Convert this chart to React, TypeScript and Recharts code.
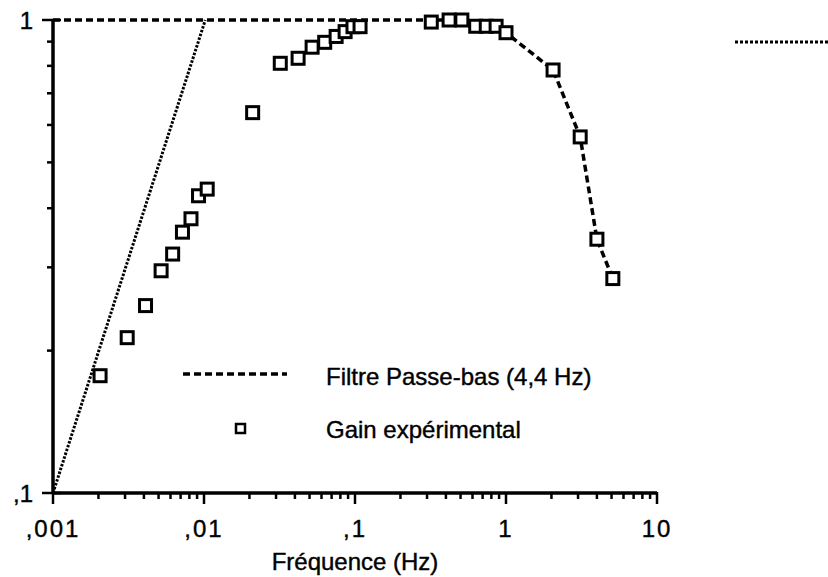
import React from "react";
import { ComposedChart, Line, Scatter, XAxis, YAxis } from "recharts";

// fréquences (Hz) et gains
const expFreq = [
  0.00205, 0.0031, 0.0041, 0.0052, 0.0062, 0.0072, 0.0082, 0.0092, 0.0105,
  0.021, 0.032, 0.042, 0.052, 0.063, 0.075, 0.086, 0.097, 0.108,
  0.32, 0.42, 0.51, 0.63, 0.74, 0.86, 1.0, 2.05, 3.1, 4.0, 5.1,
];
const expGain = [
  0.177, 0.213, 0.249, 0.295, 0.32, 0.356, 0.38, 0.425, 0.439,
  0.637, 0.81, 0.83, 0.876, 0.897, 0.923, 0.945, 0.968, 0.968,
  0.99, 1.0, 1.0, 0.97, 0.97, 0.97, 0.94, 0.784, 0.566, 0.344, 0.284,
];

// filtre passe-bas 4,4 Hz (tirets)
const filterFreq = [0.001, 0.3, 0.5, 0.63, 0.86, 1.0, 2.05, 3.1, 4.0, 5.1];
const filterGain = [1, 1, 1, 0.98, 0.97, 0.94, 0.784, 0.566, 0.344, 0.284];

// droite en pointillés
const slopeFreq = [0.001, 0.0102];
const slopeGain = [0.1, 1];

const xTicks = [
  0.001, 0.002, 0.003, 0.004, 0.005, 0.006, 0.007, 0.008, 0.009,
  0.01, 0.02, 0.03, 0.04, 0.05, 0.06, 0.07, 0.08, 0.09,
  0.1, 0.2, 0.3, 0.4, 0.5, 0.6, 0.7, 0.8, 0.9,
  1, 2, 3, 4, 5, 6, 7, 8, 9, 10,
];
const xLabels: Record<string, string> = {
  "0.001": ",001",
  "0.01": ",01",
  "0.1": ",1",
  "1": "1",
  "10": "10",
};
const yTicks = [0.1, 0.2, 0.3, 0.4, 0.5, 0.6, 0.7, 0.8, 0.9, 1];
const yLabels: Record<string, string> = { "0.1": ",1", "1": "1" };

const expData = expFreq.map((f, i) => ({ f, g: expGain[i] }));
const filterData = filterFreq.map((f, i) => ({ f, g: filterGain[i] }));
const slopeData = slopeFreq.map((f, i) => ({ f, g: slopeGain[i] }));

const FONT = '"Liberation Sans", Arial, Helvetica, sans-serif';
const textStyle = { fontFamily: FONT, fontSize: 24, fill: "#000", stroke: "#000", strokeWidth: 0.4 };

const XTick = (props: any) => {
  const { x, y, payload } = props;
  const label = xLabels[String(payload.value)];
  return (
    <g>
      <line x1={x} y1={label ? y - 1 : y} x2={x} y2={y + (label ? 11 : 6)} stroke="#000" strokeWidth={2.5} />
      {label && (
        <text x={x} y={y + 35} textAnchor="middle" dominantBaseline="central" letterSpacing={2} style={textStyle}>
          {label}
        </text>
      )}
    </g>
  );
};

const YTick = (props: any) => {
  const { x, y, payload } = props;
  const label = yLabels[String(payload.value)];
  return (
    <g>
      <line x1={x - (label ? 11 : 6)} y1={y} x2={label ? x + 8 : x} y2={y} stroke="#000" strokeWidth={2.5} />
      {label && (
        <text x={x - 20} y={y} textAnchor="end" dominantBaseline="central" style={textStyle}>
          {label}
        </text>
      )}
    </g>
  );
};

const Square = (props: any) => {
  const { cx, cy } = props;
  return <rect x={cx - 6} y={cy - 6} width={12} height={12} fill="#fff" stroke="#000" strokeWidth={3} />;
};

export default function App() {
  return (
    <div style={{ position: "absolute", left: 0, top: 0, width: 828, height: 577, background: "#fff" }}>
      <ComposedChart width={828} height={577} margin={{ top: 20, right: 171, left: 0, bottom: 0 }}>
        <XAxis
          dataKey="f"
          type="number"
          scale="log"
          domain={[0.001, 10]}
          ticks={xTicks}
          interval={0}
          height={84}
          tickSize={0}
          tickMargin={0}
          tick={<XTick />}
          axisLine={{ stroke: "#000", strokeWidth: 3.5 }}
          label={{
            value: "Fréquence (Hz)",
            position: "insideBottom",
            offset: 7,
            style: textStyle,
          }}
        />
        <YAxis
          type="number"
          scale="log"
          domain={[0.1, 1]}
          ticks={yTicks}
          interval={0}
          width={53}
          tickSize={0}
          tickMargin={0}
          tick={<YTick />}
          axisLine={{ stroke: "#000", strokeWidth: 3.5 }}
        />
        <Line
          data={slopeData}
          dataKey="g"
          type="linear"
          stroke="#000"
          strokeWidth={3}
          strokeDasharray="2.5 1.5"
          dot={false}
          isAnimationActive={false}
        />
        <Line
          data={filterData}
          dataKey="g"
          type="linear"
          stroke="#000"
          strokeWidth={3.5}
          strokeDasharray="7 4"
          dot={false}
          isAnimationActive={false}
        />
        <Scatter data={expData} dataKey="g" shape={<Square />} isAnimationActive={false} />
      </ComposedChart>

      {/* légende dans le cadre */}
      <svg style={{ position: "absolute", left: 0, top: 0, pointerEvents: "none" }} width={828} height={577}>
        <line x1={183} y1={374} x2={287} y2={374} stroke="#000" strokeWidth={3.5} strokeDasharray="7 4" />
        <text x={326} y={376} dominantBaseline="central" style={textStyle}>
          Filtre Passe-bas (4,4 Hz)
        </text>
        <rect x={236} y={424} width={9} height={9} fill="#fff" stroke="#000" strokeWidth={2.5} />
        <text x={326} y={429} dominantBaseline="central" style={textStyle}>
          Gain expérimental
        </text>
        {/* trait pointillé tronqué en haut à droite */}
        <line x1={735} y1={42} x2={828} y2={42} stroke="#000" strokeWidth={3} strokeDasharray="3 2" />
      </svg>
    </div>
  );
}
